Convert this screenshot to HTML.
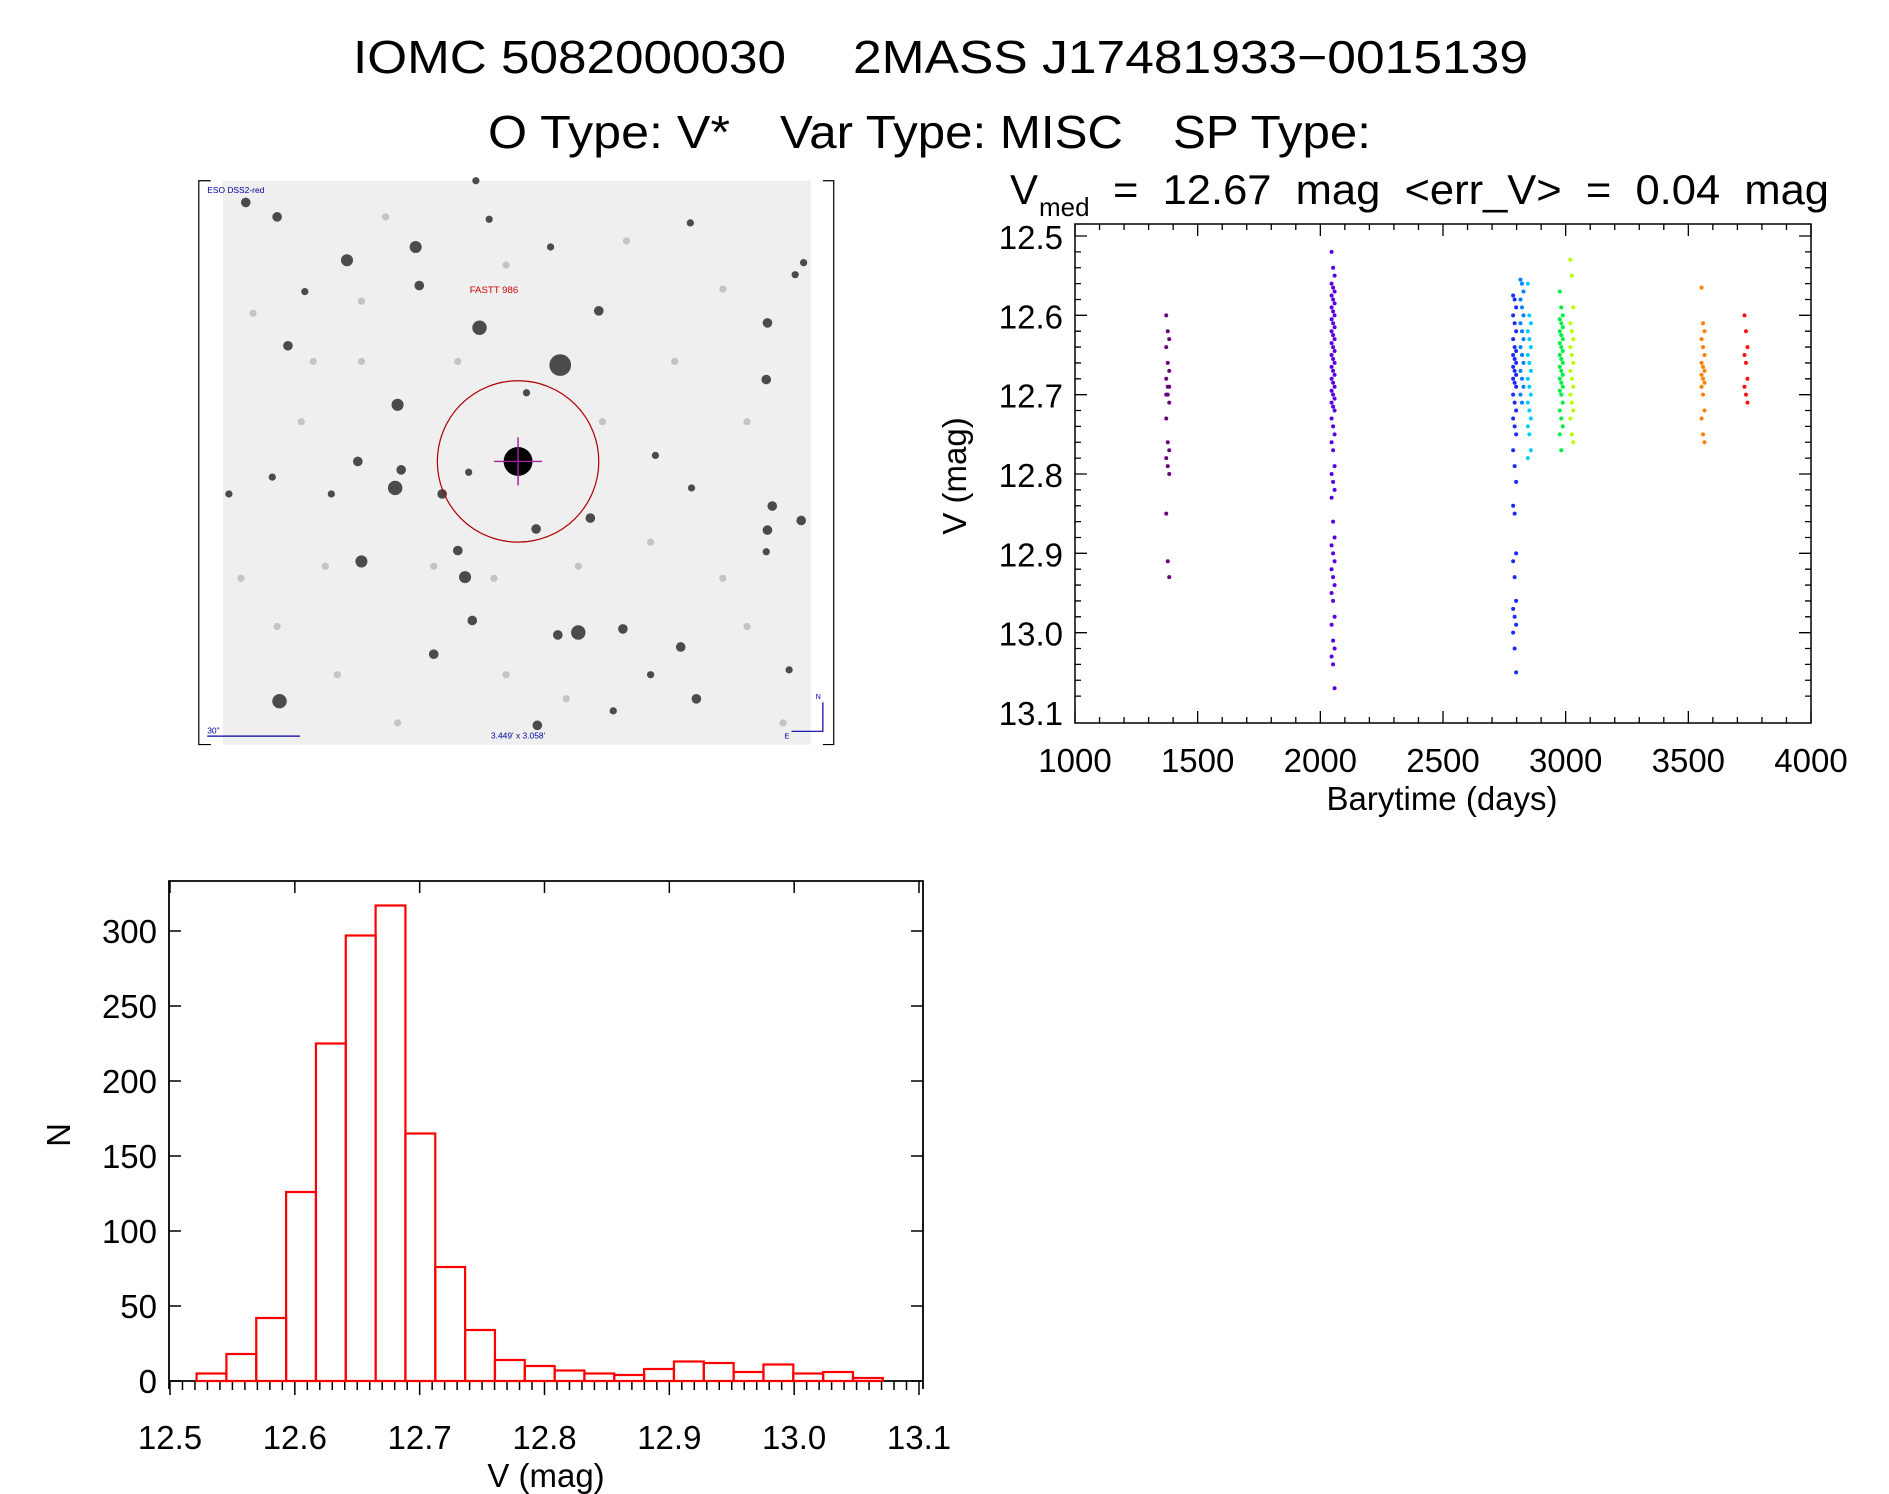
<!DOCTYPE html>
<html><head><meta charset="utf-8">
<style>
html,body{margin:0;padding:0;background:#fff;}
svg{display:block;font-family:"Liberation Sans",sans-serif;}
text{white-space:pre;}
</style></head>
<body>
<svg id="root" width="1889" height="1494" viewBox="0 0 1889 1494" xmlns="http://www.w3.org/2000/svg" xml:space="preserve">
<text x="353" y="73" font-size="46" textLength="433" lengthAdjust="spacingAndGlyphs">IOMC 5082000030</text>
<text x="853" y="73" font-size="46" textLength="675" lengthAdjust="spacingAndGlyphs">2MASS J17481933−0015139</text>
<text x="488" y="148" font-size="46" textLength="242" lengthAdjust="spacingAndGlyphs">O Type: V*</text>
<text x="780" y="148" font-size="46" textLength="343" lengthAdjust="spacingAndGlyphs">Var Type: MISC</text>
<text x="1173" y="148" font-size="46" textLength="198" lengthAdjust="spacingAndGlyphs">SP Type:</text>
<g id="sky"></g>
<g id="lc"></g>
<g id="hist"></g>
</svg>
<script>
const NS="http://www.w3.org/2000/svg";
function mk(parent,tag,attrs,text){const e=document.createElementNS(NS,tag);for(const k in attrs)e.setAttribute(k,attrs[k]);if(text!==undefined)e.textContent=text;parent.appendChild(e);return e;}

// ---------- Sky image (finder chart decoration) ----------
const starsXY=[[204,168,4],[230,180,4],[288,216,5],[345,205,5],[348,237,4],[398,272,6],[465,303,9],[497,258,4],[239,287,4],[330,336,5],[636,315,4],[297,383,4],[328,405,6],[333,390,4],[367,410,4],[300,466,5],[380,457,4],[386,479,5],[463,527,4],[480,525,6],[517,522,4],[565,537,4],[232,582,6],[578,580,4],[637,440,4],[665,432,4],[641,420,4],[226,396,3],[275,410,3],[655,556,3],[190,410,3],[360,543,4],[392,515,4],[544,378,3],[574,405,3],[490,430,4],[637,268,4],[660,228,3],[540,560,3],[509,590,3],[446,602,4],[406,182,3],[573,185,3],[457,205,3],[437,326,3],[389,392,3],[445,439,4],[253,242,3],[667,218,3],[636,458,3],[395,150,3]];
const faintXY=[[210,260],[260,300],[300,250],[320,180],[420,220],[520,200],[600,240],[620,350],[560,300],[500,350],[270,470],[230,520],[280,560],[330,600],[420,560],[480,470],[600,480],[620,520],[650,600],[250,350],[200,480],[540,450],[470,580],[380,300],[410,480],[360,470],[300,300],[560,640]];
const sky=document.getElementById('sky');
const skyG=mk(sky,'g',{transform:'scale(1.2048)'});
let r=mk(skyG,'rect',{x:185,y:150,width:488,height:468,fill:'#efefef'});


let fr=mk(skyG,'path',{d:'M175 150 H165 V618 H175 M683 150 H692 V618 H683',fill:'none',stroke:'#000','stroke-width':1});


faintXY.forEach(s=>{
  if(s[1]>615) return;
  const c=mk(skyG,'circle',{cx:s[0],cy:s[1],r:3,fill:'#999','fill-opacity':0.5});
  
  
});
starsXY.forEach(s=>{
  const c=mk(skyG,'circle',{cx:s[0],cy:s[1],r:s[2],fill:'#222','fill-opacity':0.8});
  
  
});
let tgt=mk(skyG,'circle',{cx:430,cy:383,r:12,fill:'#000'});


mk(skyG,'path',{d:'M410 383 H450 M430 363 V403',stroke:'#a020a0','stroke-width':1.2});
let circ=mk(skyG,'ellipse',{cx:430,cy:383,rx:67,ry:67,fill:'none',stroke:'#b00000','stroke-width':1});


let lb=mk(skyG,'text',{x:410,y:243,'font-size':8,fill:'#d00000','text-anchor':'middle'},'FASTT 986');


let sv=mk(skyG,'text',{x:172,y:160,'font-size':7,fill:'#0000a0'},'ESO DSS2-red');


let sc=mk(skyG,'text',{x:172,y:609,'font-size':7,fill:'#0000a0'},'30"');


mk(skyG,'path',{d:'M172 611 H249',stroke:'#0000a0','stroke-width':1});
let fv=mk(skyG,'text',{x:430,y:613,'font-size':7,fill:'#0000a0','text-anchor':'middle'},"3.449' x 3.058'");


mk(skyG,'path',{d:'M683 583 V607 H657',stroke:'#0000a0','stroke-width':1,fill:'none'});
mk(skyG,'text',{x:677,y:580,'font-size':6,fill:'#0000a0'},'N');
mk(skyG,'text',{x:651,y:613,'font-size':6,fill:'#0000a0'},'E');

// ---------- Light curve data ----------
const lcTimes=[1378,2052,2792,2822,2852,2982,3025,3560,3735];
const lcColors=['#6a0080','#5a00e0','#1a2aff','#0080ff','#00ccff','#00f040','#b8ff00','#ff8000','#ff1010'];
const lcMags=[
 [12.60,12.62,12.63,12.64,12.66,12.67,12.68,12.69,12.69,12.70,12.70,12.71,12.73,12.76,12.77,12.78,12.79,12.80,12.85,12.91,12.93],
 [12.52,12.54,12.55,12.56,12.565,12.57,12.575,12.58,12.585,12.59,12.595,12.60,12.605,12.61,12.615,12.62,12.625,12.63,12.635,12.64,12.645,12.65,12.655,12.66,12.665,12.67,12.675,12.68,12.685,12.69,12.695,12.70,12.705,12.71,12.715,12.72,12.73,12.74,12.75,12.76,12.77,12.79,12.80,12.81,12.82,12.83,12.86,12.88,12.89,12.90,12.91,12.92,12.93,12.94,12.95,12.96,12.98,12.99,13.01,13.02,13.03,13.04,13.07],
 [12.575,12.58,12.59,12.60,12.61,12.62,12.63,12.64,12.645,12.65,12.655,12.66,12.665,12.67,12.675,12.68,12.685,12.69,12.70,12.71,12.72,12.73,12.74,12.75,12.77,12.79,12.81,12.84,12.85,12.90,12.91,12.93,12.96,12.97,12.98,12.99,13.00,13.02,13.05],
 [12.555,12.56,12.57,12.58,12.59,12.60,12.61,12.62,12.63,12.64,12.65,12.66,12.67,12.68,12.69,12.70,12.71],
 [12.56,12.60,12.61,12.62,12.63,12.64,12.65,12.66,12.67,12.68,12.69,12.70,12.71,12.72,12.73,12.74,12.75,12.77,12.78],
 [12.57,12.59,12.60,12.605,12.61,12.615,12.62,12.625,12.63,12.635,12.64,12.645,12.65,12.655,12.66,12.665,12.67,12.675,12.68,12.685,12.69,12.695,12.70,12.71,12.72,12.73,12.74,12.75,12.77],
 [12.53,12.55,12.59,12.61,12.62,12.63,12.64,12.65,12.66,12.67,12.68,12.69,12.70,12.71,12.72,12.73,12.75,12.76],
 [12.565,12.61,12.62,12.63,12.64,12.65,12.66,12.665,12.67,12.675,12.68,12.685,12.69,12.70,12.72,12.73,12.75,12.76],
 [12.60,12.62,12.64,12.65,12.66,12.68,12.69,12.70,12.71]
];
const lcXTicks=[1000,1500,2000,2500,3000,3500,4000];
const lcYTicks=[12.5,12.6,12.7,12.8,12.9,13.0,13.1];

const LX0=1075,LX1=1811,LY0=224,LY1=723;
const lx=t=>LX0+(t-1000)/3000*(LX1-LX0);
const ly=m=>236+(m-12.5)/0.6*(712-236);
const lc=document.getElementById('lc');
let lt=mk(lc,'text',{x:1010,y:204,'font-size':42},'V');


mk(lc,'text',{x:1039,y:216,'font-size':26},'med');
mk(lc,'text',{x:1113,y:204,'font-size':42,textLength:716,lengthAdjust:'spacingAndGlyphs'},'=  12.67  mag  <err_V>  =  0.04  mag');
let lbox=mk(lc,'rect',{x:LX0,y:LY0,width:LX1-LX0,height:LY1-LY0,fill:'none',stroke:'#000','stroke-width':1.5});


let tk='';
for(let t=1000;t<=4000;t+=100){const x=lx(t),L=(t%500===0)?12:6;tk+=`M${x} ${LY1} v${-L} M${x} ${LY0} v${L} `;}
for(let i=0;i<=30;i++){const m=12.48+i*0.02;const y=ly(m);if(y<LY0||y>LY1)continue;const maj=Math.abs((m*10)-Math.round(m*10))<1e-6;const L=maj?12:6;tk+=`M${LX0} ${y} h${L} M${LX1} ${y} h${-L} `;}
mk(lc,'path',{d:tk,stroke:'#000','stroke-width':1.3,fill:'none'});
lcXTicks.forEach(t=>{const e=mk(lc,'text',{x:lx(t),y:772,'font-size':33,'text-anchor':'middle'},String(t));
 
 });
lcYTicks.forEach(m=>{const e=mk(lc,'text',{x:1063,y:ly(m)+13,'font-size':33,'text-anchor':'end'},m.toFixed(1));
 
 });
let lxt=mk(lc,'text',{x:1442,y:810,'font-size':33,'text-anchor':'middle'},'Barytime (days)');


let lyt=mk(lc,'text',{x:0,y:0,'font-size':33,'text-anchor':'middle',transform:'translate(966 476) rotate(-90)'},'V (mag)');


lcTimes.forEach((t,i)=>{
  const g=mk(lc,'g',{fill:lcColors[i]});
  
  
  lcMags[i].forEach((m,j)=>{
    const c=mk(g,'circle',{cx:lx(t)+((j%3)-1)*1.5,cy:ly(m),r:2});
    
    
  });
});

// ---------- Histogram data ----------
const hStart=12.5213, hWidth=0.0239;
const hCounts=[5,18,42,126,225,297,317,165,76,34,14,10,7,5,4,8,13,12,6,11,5,6,2];
const hXTicks=[12.5,12.6,12.7,12.8,12.9,13.0,13.1];
const hYTicks=[0,50,100,150,200,250,300];
const HX0=169,HX1=923,HY0=881,HY1=1389;
const hx=v=>170+(v-12.5)/0.6*(919-170);
const hy=n=>1381-n/300*(1381-931);
const hist=document.getElementById('hist');
let hbox=mk(hist,'path',{d:`M${HX0} ${HY1} V${HY0} H${HX1} V${HY1}`,fill:'none',stroke:'#000','stroke-width':1.8});


mk(hist,'path',{d:`M${HX0} ${hy(0)} H${HX1}`,stroke:'#000','stroke-width':1.8});
let ht='';
for(let i=0;i<=60;i++){const v=12.5+i*0.01;const x=hx(v);const maj=i%10===0;ht+=`M${x} ${hy(0)} v${maj?14:9} `;if(maj)ht+=`M${x} ${HY0} v12 `;}
hYTicks.forEach(n=>{ht+=`M${HX0} ${hy(n)} h12 M${HX1} ${hy(n)} h-12 `;});
mk(hist,'path',{d:ht,stroke:'#000','stroke-width':1.5,fill:'none'});
hCounts.forEach((n,i)=>{
  const x0=hx(hStart+i*hWidth),x1=hx(hStart+(i+1)*hWidth);
  const b=mk(hist,'rect',{x:x0,y:hy(n),width:x1-x0,height:hy(0)-hy(n),fill:'none',stroke:'#ff0000','stroke-width':2.2});
  
  
});
hXTicks.forEach(v=>{const e=mk(hist,'text',{x:hx(v),y:1449,'font-size':33,'text-anchor':'middle'},v.toFixed(1));
 
 });
hYTicks.forEach(n=>{const e=mk(hist,'text',{x:157,y:hy(n)+12,'font-size':33,'text-anchor':'end'},String(n));
 
 });
let hxt=mk(hist,'text',{x:546,y:1487,'font-size':33,'text-anchor':'middle'},'V (mag)');


let hyt=mk(hist,'text',{x:0,y:0,'font-size':33,'text-anchor':'middle',transform:'translate(70 1135) rotate(-90)'},'N');


</script>
</body></html>
